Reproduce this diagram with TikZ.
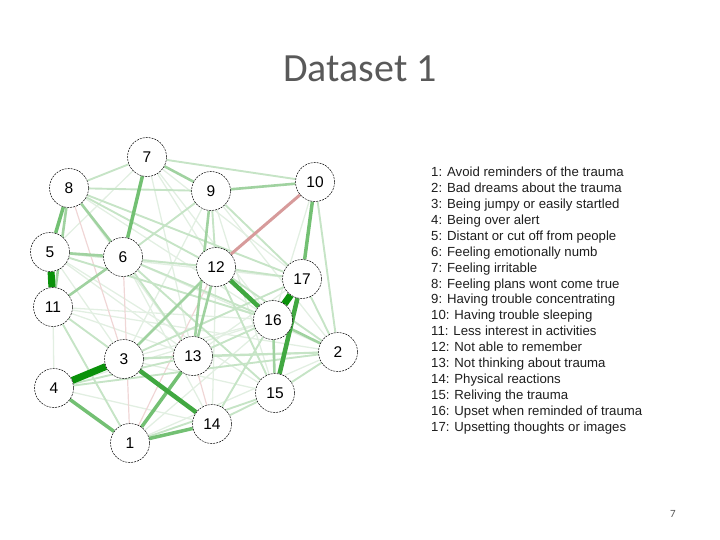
\documentclass[tikz,border=0pt]{standalone}
\usepackage{fontspec}
\setmainfont{Liberation Sans}
\newfontfamily\titlefont{Carlito}
\pgfdeclarelayer{background}
\pgfsetlayers{background,main}
\definecolor{eS}{RGB}{10,145,10}
\definecolor{eA}{RGB}{65,168,65}
\definecolor{eB}{RGB}{115,192,115}
\definecolor{eC}{RGB}{160,210,160}
\definecolor{eD}{RGB}{198,228,198}
\definecolor{eF}{RGB}{226,239,226}
\definecolor{eR}{RGB}{215,155,155}
\definecolor{eRF}{RGB}{240,214,214}
\definecolor{titlegray}{RGB}{89,89,89}
\definecolor{legtext}{RGB}{30,30,30}
\tikzset{
  sym/.style={circle,draw=black,line width=0.5pt,dash pattern=on 2pt off 1pt,fill=white,minimum size=39pt,inner sep=0pt,font=\fontsize{15.5}{15.5}\selectfont},
  es/.style={eS,line width=7pt},
  ea/.style={eA,line width=4.5pt},
  eb/.style={eB,line width=3.5pt},
  ec/.style={eC,line width=2.6pt},
  ed/.style={eD,line width=1.9pt},
  ef/.style={eF,line width=1.3pt},
  er/.style={eR,line width=3pt},
  erf/.style={eRF,line width=1.2pt},
  legline/.style={anchor=base west,inner sep=0pt,text=legtext,font=\fontsize{13.2}{15.9}\selectfont}
}
\begin{document}
\begin{tikzpicture}[x=1pt,y=-1pt]
\useasboundingbox (0,0) rectangle (720,540);
\node[anchor=base,text=titlegray,font=\titlefont\fontsize{40}{40}\selectfont] (title) at (360,82) {Dataset 1};
\node[text=titlegray,font=\titlefont\fontsize{11}{11}\selectfont] (page) at (673,514) {7};
% nodes
\node[sym] (n7) at (147,157) {7};
\node[sym] (n8) at (69,188) {8};
\node[sym] (n9) at (211,191) {9};
\node[sym] (n10) at (315,182) {10};
\node[sym] (n5) at (50,252) {5};
\node[sym] (n6) at (123,257) {6};
\node[sym] (n12) at (216,267) {12};
\node[sym] (n17) at (302,279) {17};
\node[sym] (n11) at (53,307) {11};
\node[sym] (n16) at (273,320) {16};
\node[sym] (n3) at (124,359) {3};
\node[sym] (n13) at (193,356) {13};
\node[sym] (n2) at (338,352) {2};
\node[sym] (n4) at (54,388) {4};
\node[sym] (n15) at (275,393) {15};
\node[sym] (n14) at (212,424) {14};
\node[sym] (n1) at (130,443) {1};
\begin{pgfonlayer}{background}
% faint edges
\foreach \a/\b in {7/5,7/12,7/16,7/13,8/16,8/13,9/3,9/15,5/13,5/3,5/17,6/2,6/14,11/13,11/16,11/4,4/14,4/16,3/15,3/16,1/2,1/16,13/17,10/16,12/14,9/2,7/17,5/15,6/17,11/2}
  \draw[ef] (n\a) -- (n\b);
\foreach \a/\b in {8/3,6/1,13/14,12/1}
  \draw[erf] (n\a) -- (n\b);
% light edges
\foreach \a/\b in {14/16,13/16,15/2,17/2,10/2,14/15,12/15,11/3,11/1,8/9,7/8,9/12,12/17,6/16,8/12,9/17,13/2,3/13,4/2,6/13,5/16,1/15,8/17,7/10,3/17,5/12,6/15,4/13,3/2,6/9,12/2}
  \draw[ed] (n\a) -- (n\b);
% medium edges
\foreach \a/\b in {7/9,8/6,9/13,12/13,15/16,2/16,6/11,5/6,9/10,8/11,3/12}
  \draw[ec] (n\a) -- (n\b);
\draw[er] (n10) -- (n12);
\foreach \a/\b in {4/1,13/1,1/14,8/5,7/6,10/17}
  \draw[eb] (n\a) -- (n\b);
\foreach \a/\b in {15/17,12/16,3/14}
  \draw[ea] (n\a) -- (n\b);
\foreach \a/\b in {5/11,3/4,16/17}
  \draw[es] (n\a) -- (n\b);
\end{pgfonlayer}
% legend
\foreach [count=\i] \t in {
  1: Avoid reminders of the trauma,
  2: Bad dreams about the trauma,
  3: Being jumpy or easily startled,
  4: Being over alert,
  5: Distant or cut off from people,
  6: Feeling emotionally numb,
  7: Feeling irritable,
  8: Feeling plans wont come true,
  9: Having trouble concentrating,
  10: Having trouble sleeping,
  11: Less interest in activities,
  12: Not able to remember,
  13: Not thinking about trauma,
  14: Physical reactions,
  15: Reliving the trauma,
  16: Upset when reminded of trauma,
  17: Upsetting thoughts or images}
  \node[legline] (leg\i) at (431,{176.7+15.9*(\i-1)}) {\t};
\end{tikzpicture}
\end{document}
